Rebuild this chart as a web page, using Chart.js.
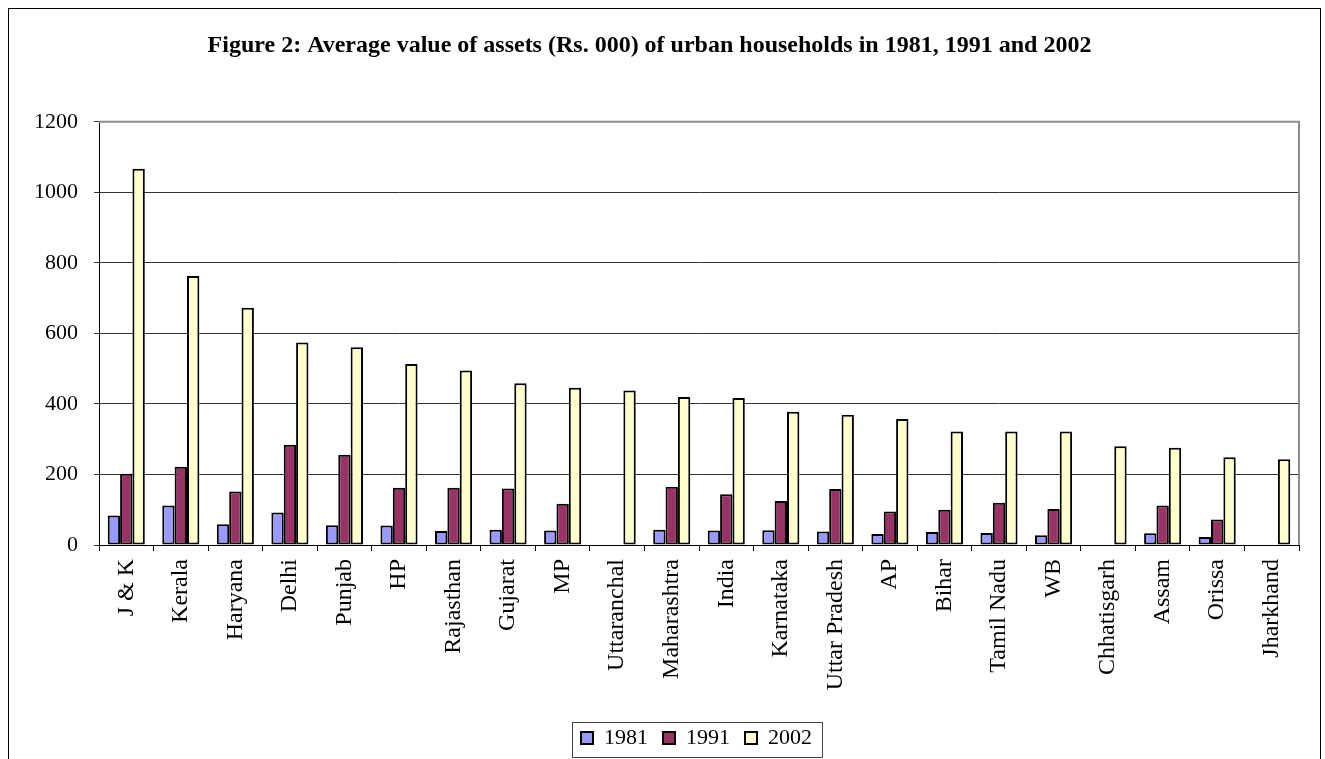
<!DOCTYPE html>
<html>
<head>
<meta charset="utf-8">
<title>Figure 2</title>
<script src="https://cdn.jsdelivr.net/npm/chart.js@4/dist/chart.umd.min.js"></script>
<style>
  html, body { margin: 0; padding: 0; background: #fff; }
  #wrap { width: 1325px; height: 759px; }
</style>
</head>
<body>
<div id="wrap"><canvas id="chart" width="1325" height="759"></canvas></div>
<script>
'use strict';
var states = ['J & K', 'Kerala', 'Haryana', 'Delhi', 'Punjab', 'HP', 'Rajasthan', 'Gujarat', 'MP',
  'Uttaranchal', 'Maharashtra', 'India', 'Karnataka', 'Uttar Pradesh', 'AP', 'Bihar', 'Tamil Nadu',
  'WB', 'Chhatisgarh', 'Assam', 'Orissa', 'Jharkhand'];
var years = ['1981', '1991', '2002'];
var assets1981 = [84, 112, 59, 92, 56, 55, 40, 43, 41, null, 43, 41, 42, 38, 31, 37, 34, 28, null, 33, 23, null];
var assets1991 = [202, 222, 152, 284, 256, 162, 162, 160, 117, null, 165, 144, 125, 159, 95, 100, 120, 102, null, 112, 72, null];
var assets2002 = [1067, 763, 673, 574, 561, 513, 495, 459, 446, 438, 420, 417, 378, 369, 357, 322, 322, 322, 280, 276, 249, 243];
var yTicks = [0, 200, 400, 600, 800, 1000, 1200];

var serif = "'Liberation Serif', 'Times New Roman', serif";

// gray frame on top/right of the plot, outer border, box round the legend
var frames = {
  id: 'frames',
  afterLayout: function (chart) {
    // the legend in the original sits right of centre
    chart.legend.left += 47;
    chart.legend.right += 47;
  },
  beforeDatasetsDraw: function (chart) {
    var a = chart.chartArea;
    var ctx = chart.ctx;
    ctx.save();
    ctx.strokeStyle = '#8c8c8c';
    ctx.lineWidth = 2;
    ctx.beginPath();
    ctx.moveTo(a.left, a.top);
    ctx.lineTo(a.right, a.top);
    ctx.lineTo(a.right, a.bottom);
    ctx.stroke();
    ctx.restore();
  },
  afterDraw: function (chart) {
    var ctx = chart.ctx;
    ctx.save();
    ctx.strokeStyle = '#000';
    ctx.lineWidth = 1;
    ctx.strokeRect(8.5, 8.5, 1312, 760);
    var boxes = chart.legend.legendHitBoxes;
    if (boxes && boxes.length) {
      var l = boxes[0].left - 9;
      var last = boxes[boxes.length - 1];
      var r = last.left + last.width + 10;
      var t = boxes[0].top - 5;
      var h = boxes[0].height + 13;
      ctx.strokeStyle = '#444';
      ctx.strokeRect(Math.round(l) + 0.5, Math.round(t) + 0.5, Math.round(r - l), Math.round(h));
    }
    ctx.restore();
  }
};

var colors = ['#9999ff', '#993366', '#ffffcc'];
var series = [assets1981, assets1991, assets2002];
var datasets = [];
for (var i = 0; i < years.length; i++) {
  datasets.push({
    label: years[i],
    data: series[i],
    backgroundColor: colors[i],
    borderColor: '#000',
    borderWidth: 2,
    borderSkipped: false,
    categoryPercentage: 0.68,
    barPercentage: 1.0
  });
}

new Chart(document.getElementById('chart'), {
  type: 'bar',
  data: { labels: states, datasets: datasets },
  plugins: [frames],
  options: {
    responsive: false,
    animation: false,
    layout: { padding: { left: 0, right: 26, top: 0, bottom: 0 } },
    plugins: {
      tooltip: { enabled: false },
      title: {
        display: true,
        text: 'Figure 2: Average value of assets (Rs. 000) of urban households in 1981, 1991 and 2002',
        color: '#000',
        font: { family: serif, size: 24, weight: 'bold', lineHeight: 1.2 },
        padding: { top: 31, bottom: 62 }
      },
      legend: {
        position: 'bottom',
        labels: {
          color: '#000',
          font: { family: serif, size: 22, lineHeight: 1 },
          boxWidth: 12,
          boxHeight: 12,
          padding: 15
        }
      }
    },
    scales: {
      x: {
        grid: { drawOnChartArea: false, drawTicks: true, tickLength: 6, color: '#000', offset: true },
        border: { color: '#000', width: 1 },
        ticks: {
          color: '#000',
          font: { family: serif, size: 24 },
          minRotation: 90,
          maxRotation: 90,
          autoSkip: false,
          padding: 8
        },
        afterFit: function (scale) { scale.height = 167; }
      },
      y: {
        min: 0,
        max: 1200,
        afterBuildTicks: function (scale) {
          scale.ticks = yTicks.map(function (v) { return { value: v }; });
        },
        grid: { color: '#333', tickLength: 5, drawTicks: true },
        border: { color: '#000', width: 1 },
        ticks: {
          color: '#000',
          font: { family: serif, size: 22 },
          padding: 16,
          callback: function (v) { return String(v); }
        },
        afterFit: function (scale) { scale.width = 99; }
      }
    }
  }
});
</script>
</body>
</html>
